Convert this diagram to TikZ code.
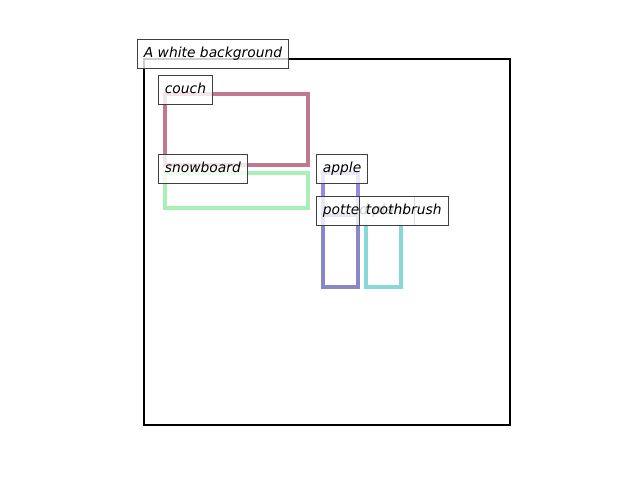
\documentclass[tikz,border=0pt]{standalone}
\usepackage{fontspec}
\setmainfont{DejaVu Sans}
\begin{document}
\begin{tikzpicture}[x=0.72bp, y=-0.72bp,
  bbox/.style={line width=2.25pt},
  tag/.style={draw=black!75, line width=0.7pt, fill=white, fill opacity=0.8, text opacity=1,
    anchor=south west, inner xsep=4.6pt, inner ysep=0pt, minimum height=20.4pt,
    text height=7.7pt, text depth=2.4pt, font=\itshape\fontsize{10}{12}\selectfont}]
\definecolor{couchc}{RGB}{192,120,144}
\definecolor{snowc}{RGB}{168,240,184}
\definecolor{applec}{RGB}{152,136,224}
\definecolor{pottedc}{RGB}{136,136,196}
\definecolor{toothc}{RGB}{136,216,216}
\useasboundingbox (0,0) rectangle (640,480);
\draw[line width=1.8pt] (144,59) rectangle (510,425);
\draw[bbox, couchc] (165,94) rectangle (308,165);
\draw[bbox, snowc] (165,173) rectangle (308,208);
\draw[bbox, applec] (323,173) rectangle (358,287);
\draw[bbox, pottedc] (323,215) rectangle (358,287);
\draw[bbox, toothc] (366,215) rectangle (401,287);

\node[tag] (bg) at (137,68.5) {A white background};
\node[tag] (couch) at (158,104.5) {couch};
\node[tag] (snowboard) at (158,183.5) {snowboard};
\node[tag] (apple) at (316,183.5) {apple};
\node[tag] (potted) at (316,225.5) {potted plant};
\node[tag] (toothbrush) at (359,225.5) {toothbrush};
\end{tikzpicture}
\end{document}
